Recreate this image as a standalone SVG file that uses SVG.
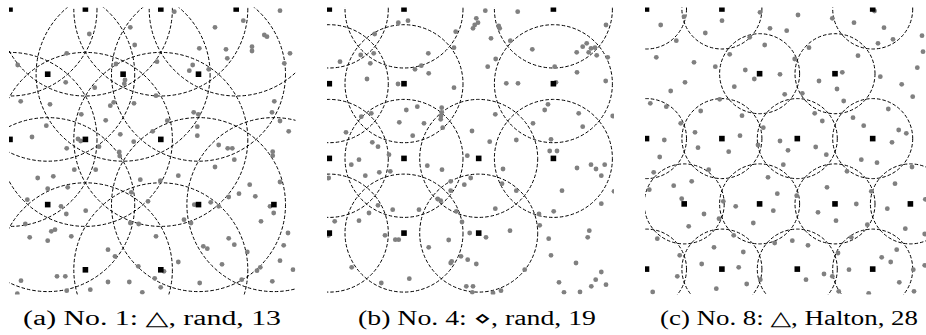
<svg xmlns="http://www.w3.org/2000/svg" width="926" height="335" viewBox="0 0 926 335">
<style>
.c{fill:none;stroke:#000;stroke-width:1;stroke-dasharray:3.5 2}
.d{fill:#808080}
.s{fill:#000}
.cap{font-family:"Liberation Serif","DejaVu Serif",serif;font-size:20px;fill:#000;text-anchor:middle}
</style>
<defs>
<clipPath id="ca"><rect x="9" y="7.5" width="286.5" height="287"/></clipPath>
<clipPath id="cb"><rect x="327" y="7.5" width="287" height="287"/></clipPath>
<clipPath id="cc"><rect x="645" y="7.5" width="287" height="287"/></clipPath>
<rect id="sq" x="-2.8" y="-2.8" width="5.6" height="5.6"/>
</defs>
<rect width="926" height="335" fill="#fff"/>

<g id="panel-a" clip-path="url(#ca)">
<g id="circles-a" class="c">
<circle cx="10" cy="9" r="87"/><circle cx="85.4" cy="9" r="87"/><circle cx="160.8" cy="9" r="87"/><circle cx="236.2" cy="9" r="87"/>
<circle cx="47.7" cy="74.2" r="87"/><circle cx="123.1" cy="74.2" r="87"/><circle cx="198.5" cy="74.2" r="87"/>
<circle cx="10" cy="139.4" r="87"/><circle cx="85.4" cy="139.4" r="87"/><circle cx="160.8" cy="139.4" r="87"/>
<circle cx="47.7" cy="204.6" r="87"/><circle cx="198.5" cy="204.6" r="87"/><circle cx="273.9" cy="204.6" r="87"/>
<circle cx="85.4" cy="269.8" r="87"/><circle cx="160.8" cy="269.8" r="87"/>
</g>
<g id="dots-a" class="d">
<circle cx="174.3" cy="11.7" r="2.4"/><circle cx="280" cy="10.7" r="2.4"/><circle cx="243.3" cy="20.7" r="2.4"/><circle cx="215" cy="27.3" r="2.4"/><circle cx="130.3" cy="27.3" r="2.4"/><circle cx="89.3" cy="34" r="2.4"/><circle cx="264.3" cy="35" r="2.4"/><circle cx="267" cy="36.7" r="2.4"/><circle cx="134.7" cy="45" r="2.4"/><circle cx="199.3" cy="48.3" r="2.4"/><circle cx="226" cy="49.3" r="2.4"/><circle cx="252" cy="46.7" r="2.4"/><circle cx="252" cy="51" r="2.4"/><circle cx="290" cy="53.3" r="2.4"/><circle cx="66.7" cy="53.3" r="2.4"/><circle cx="227.3" cy="58.3" r="2.4"/><circle cx="284.3" cy="63.3" r="2.4"/><circle cx="17.7" cy="65" r="2.4"/><circle cx="116" cy="64" r="2.4"/><circle cx="157" cy="61.7" r="2.4"/><circle cx="192.7" cy="65" r="2.4"/><circle cx="189.3" cy="70.7" r="2.4"/><circle cx="208.7" cy="69.3" r="2.4"/><circle cx="125" cy="80" r="2.4"/><circle cx="124.3" cy="83.7" r="2.4"/><circle cx="65.7" cy="82.3" r="2.4"/><circle cx="94.7" cy="87.7" r="2.4"/><circle cx="156" cy="95.7" r="2.4"/><circle cx="20.7" cy="101.3" r="2.4"/><circle cx="50" cy="104.3" r="2.4"/><circle cx="113.7" cy="102.3" r="2.4"/><circle cx="110.3" cy="105.7" r="2.4"/><circle cx="134" cy="103.3" r="2.4"/><circle cx="274.3" cy="101.3" r="2.4"/><circle cx="193.7" cy="112.3" r="2.4"/><circle cx="198.3" cy="114.3" r="2.4"/><circle cx="81.3" cy="114.3" r="2.4"/><circle cx="272" cy="112.3" r="2.4"/><circle cx="105.7" cy="120.3" r="2.4"/><circle cx="167.3" cy="120.7" r="2.4"/><circle cx="280" cy="121" r="2.4"/><circle cx="46.3" cy="125.7" r="2.4"/><circle cx="197.3" cy="126.7" r="2.4"/><circle cx="197.3" cy="135.7" r="2.4"/><circle cx="120.3" cy="134.3" r="2.4"/><circle cx="152.7" cy="131.3" r="2.4"/><circle cx="288.7" cy="131.3" r="2.4"/><circle cx="32" cy="137" r="2.4"/><circle cx="78" cy="139" r="2.4"/><circle cx="80.7" cy="141" r="2.4"/><circle cx="133.7" cy="141.7" r="2.4"/><circle cx="99" cy="146.7" r="2.4"/><circle cx="218.7" cy="145" r="2.4"/><circle cx="227.7" cy="148.3" r="2.4"/><circle cx="232.3" cy="148.3" r="2.4"/><circle cx="272.7" cy="151.7" r="2.4"/><circle cx="272.7" cy="155.7" r="2.4"/><circle cx="66.7" cy="148.3" r="2.4"/><circle cx="119.3" cy="152" r="2.4"/><circle cx="119.7" cy="156" r="2.4"/><circle cx="234.3" cy="159.7" r="2.4"/><circle cx="215" cy="167" r="2.4"/><circle cx="74.3" cy="169.7" r="2.4"/><circle cx="95.7" cy="169.7" r="2.4"/><circle cx="178.3" cy="175.7" r="2.4"/><circle cx="37.7" cy="178" r="2.4"/><circle cx="53.3" cy="176.3" r="2.4"/><circle cx="140.3" cy="179.7" r="2.4"/><circle cx="160.3" cy="180.7" r="2.4"/><circle cx="280" cy="182" r="2.4"/><circle cx="249.7" cy="184.7" r="2.4"/><circle cx="47.7" cy="188.7" r="2.4"/><circle cx="67.7" cy="187.3" r="2.4"/><circle cx="131.3" cy="192.3" r="2.4"/><circle cx="239" cy="193.7" r="2.4"/><circle cx="228.7" cy="197" r="2.4"/><circle cx="255.3" cy="196.3" r="2.4"/><circle cx="27.3" cy="199.7" r="2.4"/><circle cx="148" cy="201.3" r="2.4"/><circle cx="210.7" cy="202.3" r="2.4"/><circle cx="194.3" cy="204.7" r="2.4"/><circle cx="218.7" cy="206.3" r="2.4"/><circle cx="61" cy="206.3" r="2.4"/><circle cx="270" cy="206.3" r="2.4"/><circle cx="85.7" cy="210.7" r="2.4"/><circle cx="66.3" cy="214" r="2.4"/><circle cx="273.7" cy="213" r="2.4"/><circle cx="184" cy="219.7" r="2.4"/><circle cx="191" cy="223" r="2.4"/><circle cx="130.3" cy="223" r="2.4"/><circle cx="138.7" cy="224" r="2.4"/><circle cx="261" cy="221.3" r="2.4"/><circle cx="25.3" cy="224" r="2.4"/><circle cx="55" cy="229.7" r="2.4"/><circle cx="51.3" cy="231.3" r="2.4"/><circle cx="288" cy="233" r="2.4"/><circle cx="29.7" cy="237.3" r="2.4"/><circle cx="71.3" cy="236.3" r="2.4"/><circle cx="47.7" cy="240.7" r="2.4"/><circle cx="156" cy="236.3" r="2.4"/><circle cx="228.7" cy="238.3" r="2.4"/><circle cx="234.3" cy="244.7" r="2.4"/><circle cx="283.7" cy="245.3" r="2.4"/><circle cx="203.3" cy="246.3" r="2.4"/><circle cx="207.3" cy="248.7" r="2.4"/><circle cx="108" cy="249.7" r="2.4"/><circle cx="247.3" cy="252" r="2.4"/><circle cx="115" cy="256.3" r="2.4"/><circle cx="280" cy="260.7" r="2.4"/><circle cx="178.3" cy="262" r="2.4"/><circle cx="222" cy="264.3" r="2.4"/><circle cx="138.3" cy="266.3" r="2.4"/><circle cx="260.3" cy="267.3" r="2.4"/><circle cx="257" cy="270.7" r="2.4"/><circle cx="293" cy="269.7" r="2.4"/><circle cx="164" cy="271.3" r="2.4"/><circle cx="65.3" cy="276.3" r="2.4"/><circle cx="57" cy="276.3" r="2.4"/><circle cx="154.7" cy="278.3" r="2.4"/><circle cx="21" cy="280.7" r="2.4"/><circle cx="108" cy="282" r="2.4"/><circle cx="129.3" cy="282" r="2.4"/><circle cx="199.7" cy="283" r="2.4"/><circle cx="241.7" cy="279.7" r="2.4"/><circle cx="272.3" cy="281.3" r="2.4"/><circle cx="66.7" cy="290.7" r="2.4"/><circle cx="90.3" cy="289.7" r="2.4"/><circle cx="160.7" cy="287.3" r="2.4"/><circle cx="142.3" cy="292.3" r="2.4"/><circle cx="17.3" cy="293.7" r="2.4"/>
</g>
<g id="centers-a" class="s">
<use href="#sq" x="10" y="9"/><use href="#sq" x="85.4" y="9"/><use href="#sq" x="160.8" y="9"/><use href="#sq" x="236.2" y="9"/>
<use href="#sq" x="47.7" y="74.2"/><use href="#sq" x="123.1" y="74.2"/><use href="#sq" x="198.5" y="74.2"/>
<use href="#sq" x="10" y="139.4"/><use href="#sq" x="85.4" y="139.4"/><use href="#sq" x="160.8" y="139.4"/>
<use href="#sq" x="47.7" y="204.6"/><use href="#sq" x="198.5" y="204.6"/><use href="#sq" x="273.9" y="204.6"/>
<use href="#sq" x="85.4" y="269.8"/><use href="#sq" x="160.8" y="269.8"/>
</g>
</g>

<g id="panel-b" clip-path="url(#cb)">
<g id="circles-b" class="c">
<circle cx="329.3" cy="9" r="59"/><circle cx="404" cy="9" r="59"/><circle cx="553.4" cy="9" r="59"/>
<circle cx="329.3" cy="83.7" r="59"/><circle cx="404" cy="83.7" r="59"/><circle cx="553.4" cy="83.7" r="59"/>
<circle cx="329.3" cy="158.4" r="59"/><circle cx="404" cy="158.4" r="59"/><circle cx="478.7" cy="158.4" r="59"/><circle cx="553.4" cy="158.4" r="59"/>
<circle cx="329.3" cy="233.1" r="59"/><circle cx="404" cy="233.1" r="59"/><circle cx="478.7" cy="233.1" r="59"/>
</g>
<g id="dots-b" class="d">
<circle cx="485.3" cy="10.7" r="2.4"/><circle cx="517.7" cy="11.7" r="2.4"/><circle cx="408" cy="20.7" r="2.4"/><circle cx="398.3" cy="22.7" r="2.4"/><circle cx="476.3" cy="18.3" r="2.4"/><circle cx="478" cy="22.7" r="2.4"/><circle cx="474.7" cy="25" r="2.4"/><circle cx="473" cy="28.3" r="2.4"/><circle cx="498.7" cy="26" r="2.4"/><circle cx="499.7" cy="28.3" r="2.4"/><circle cx="606" cy="25" r="2.4"/><circle cx="455.7" cy="31.7" r="2.4"/><circle cx="374.7" cy="34" r="2.4"/><circle cx="491" cy="38.3" r="2.4"/><circle cx="510.3" cy="40.7" r="2.4"/><circle cx="454" cy="47.7" r="2.4"/><circle cx="532.3" cy="49.3" r="2.4"/><circle cx="586.7" cy="43.3" r="2.4"/><circle cx="582.7" cy="46.7" r="2.4"/><circle cx="591" cy="48.3" r="2.4"/><circle cx="595" cy="47.7" r="2.4"/><circle cx="576.7" cy="52.3" r="2.4"/><circle cx="588.7" cy="52.3" r="2.4"/><circle cx="596.7" cy="55.3" r="2.4"/><circle cx="607.7" cy="57.3" r="2.4"/><circle cx="428.3" cy="53.3" r="2.4"/><circle cx="373.7" cy="53.3" r="2.4"/><circle cx="360.7" cy="55" r="2.4"/><circle cx="340" cy="61.7" r="2.4"/><circle cx="370.3" cy="63.3" r="2.4"/><circle cx="495.7" cy="59" r="2.4"/><circle cx="421.3" cy="65.7" r="2.4"/><circle cx="415" cy="69.3" r="2.4"/><circle cx="487.7" cy="66.7" r="2.4"/><circle cx="554.7" cy="66.7" r="2.4"/><circle cx="428.7" cy="73.3" r="2.4"/><circle cx="577" cy="72.3" r="2.4"/><circle cx="367" cy="79" r="2.4"/><circle cx="398" cy="84" r="2.4"/><circle cx="506.3" cy="83.3" r="2.4"/><circle cx="518" cy="83.3" r="2.4"/><circle cx="556" cy="82.3" r="2.4"/><circle cx="605.7" cy="81" r="2.4"/><circle cx="454" cy="87.7" r="2.4"/><circle cx="548" cy="104.3" r="2.4"/><circle cx="544.7" cy="110" r="2.4"/><circle cx="417.3" cy="106.7" r="2.4"/><circle cx="406.3" cy="110" r="2.4"/><circle cx="441.7" cy="107.7" r="2.4"/><circle cx="441.7" cy="112.3" r="2.4"/><circle cx="441" cy="116" r="2.4"/><circle cx="440.7" cy="119.3" r="2.4"/><circle cx="495.3" cy="114.3" r="2.4"/><circle cx="371.3" cy="113.3" r="2.4"/><circle cx="361.3" cy="116.7" r="2.4"/><circle cx="578.7" cy="113.3" r="2.4"/><circle cx="612.7" cy="116" r="2.4"/><circle cx="399.3" cy="122.3" r="2.4"/><circle cx="424" cy="123.3" r="2.4"/><circle cx="533" cy="123.3" r="2.4"/><circle cx="442.7" cy="127.7" r="2.4"/><circle cx="582.7" cy="126.7" r="2.4"/><circle cx="346" cy="132.3" r="2.4"/><circle cx="472" cy="131" r="2.4"/><circle cx="412.7" cy="135.7" r="2.4"/><circle cx="551" cy="139.3" r="2.4"/><circle cx="516.3" cy="140" r="2.4"/><circle cx="489.7" cy="141.7" r="2.4"/><circle cx="372.3" cy="142.3" r="2.4"/><circle cx="378" cy="146.7" r="2.4"/><circle cx="549.7" cy="151" r="2.4"/><circle cx="557" cy="151" r="2.4"/><circle cx="389" cy="154.7" r="2.4"/><circle cx="359" cy="159.7" r="2.4"/><circle cx="351.3" cy="164.7" r="2.4"/><circle cx="467.3" cy="155.7" r="2.4"/><circle cx="427.3" cy="165.7" r="2.4"/><circle cx="442" cy="169.7" r="2.4"/><circle cx="503" cy="169" r="2.4"/><circle cx="591" cy="164.7" r="2.4"/><circle cx="596" cy="169" r="2.4"/><circle cx="604.7" cy="164.7" r="2.4"/><circle cx="601.3" cy="175.7" r="2.4"/><circle cx="577" cy="168" r="2.4"/><circle cx="390.3" cy="171.3" r="2.4"/><circle cx="379.3" cy="172.3" r="2.4"/><circle cx="365.3" cy="175.7" r="2.4"/><circle cx="328.7" cy="178" r="2.4"/><circle cx="470.7" cy="178" r="2.4"/><circle cx="464.3" cy="184.7" r="2.4"/><circle cx="450.7" cy="181.3" r="2.4"/><circle cx="450.7" cy="190.7" r="2.4"/><circle cx="502" cy="183.7" r="2.4"/><circle cx="516.3" cy="190.7" r="2.4"/><circle cx="562" cy="190.7" r="2.4"/><circle cx="614" cy="191.3" r="2.4"/><circle cx="437.7" cy="199" r="2.4"/><circle cx="440.7" cy="200.7" r="2.4"/><circle cx="378" cy="205.3" r="2.4"/><circle cx="601.3" cy="203.7" r="2.4"/><circle cx="495.3" cy="208.7" r="2.4"/><circle cx="392.7" cy="209.7" r="2.4"/><circle cx="419" cy="209.7" r="2.4"/><circle cx="369" cy="213" r="2.4"/><circle cx="456.3" cy="211.3" r="2.4"/><circle cx="553.7" cy="211.3" r="2.4"/><circle cx="539" cy="214" r="2.4"/><circle cx="334.7" cy="221.3" r="2.4"/><circle cx="359" cy="220.7" r="2.4"/><circle cx="462" cy="222" r="2.4"/><circle cx="539.7" cy="225.3" r="2.4"/><circle cx="510" cy="230.7" r="2.4"/><circle cx="589.3" cy="230.7" r="2.4"/><circle cx="587.7" cy="237.3" r="2.4"/><circle cx="328.7" cy="235.3" r="2.4"/><circle cx="385" cy="235.3" r="2.4"/><circle cx="395.3" cy="239.7" r="2.4"/><circle cx="398.7" cy="239.7" r="2.4"/><circle cx="469.7" cy="233" r="2.4"/><circle cx="486" cy="237.3" r="2.4"/><circle cx="448.7" cy="240" r="2.4"/><circle cx="548.7" cy="238.7" r="2.4"/><circle cx="428.7" cy="247.3" r="2.4"/><circle cx="551" cy="255.3" r="2.4"/><circle cx="461" cy="256.3" r="2.4"/><circle cx="467.7" cy="259.7" r="2.4"/><circle cx="451.7" cy="261.3" r="2.4"/><circle cx="450.7" cy="263" r="2.4"/><circle cx="476.3" cy="264" r="2.4"/><circle cx="576" cy="263" r="2.4"/><circle cx="351.7" cy="267.3" r="2.4"/><circle cx="524.7" cy="269.7" r="2.4"/><circle cx="601.3" cy="272" r="2.4"/><circle cx="409.3" cy="278.7" r="2.4"/><circle cx="595.7" cy="279.7" r="2.4"/><circle cx="381.3" cy="283" r="2.4"/><circle cx="559" cy="282.3" r="2.4"/><circle cx="606" cy="284.7" r="2.4"/><circle cx="591.3" cy="286.3" r="2.4"/><circle cx="466.3" cy="286.3" r="2.4"/><circle cx="473" cy="286.3" r="2.4"/><circle cx="501" cy="290.7" r="2.4"/><circle cx="493" cy="293" r="2.4"/><circle cx="564" cy="292.3" r="2.4"/><circle cx="580" cy="292" r="2.4"/><circle cx="472.3" cy="292.3" r="2.4"/>
</g>
<g id="centers-b" class="s">
<use href="#sq" x="329.3" y="9"/><use href="#sq" x="404" y="9"/><use href="#sq" x="553.4" y="9"/>
<use href="#sq" x="329.3" y="83.7"/><use href="#sq" x="404" y="83.7"/><use href="#sq" x="553.4" y="83.7"/>
<use href="#sq" x="329.3" y="158.4"/><use href="#sq" x="404" y="158.4"/><use href="#sq" x="478.7" y="158.4"/><use href="#sq" x="553.4" y="158.4"/>
<use href="#sq" x="329.3" y="233.1"/><use href="#sq" x="404" y="233.1"/><use href="#sq" x="478.7" y="233.1"/>
</g>
</g>

<g id="panel-c" clip-path="url(#cc)">
<g id="circles-c" class="c">
<circle cx="646.5" cy="9" r="40"/><circle cx="721.9" cy="9" r="40"/><circle cx="872.7" cy="9" r="40"/>
<circle cx="759.6" cy="73.7" r="40"/><circle cx="835" cy="73.7" r="40"/>
<circle cx="646.5" cy="138.6" r="40"/><circle cx="721.9" cy="138.6" r="40"/><circle cx="797.3" cy="138.6" r="40"/><circle cx="872.7" cy="138.6" r="40"/>
<circle cx="684.2" cy="203.9" r="40"/><circle cx="759.6" cy="203.9" r="40"/><circle cx="835" cy="203.9" r="40"/><circle cx="910.4" cy="203.9" r="40"/>
<circle cx="646.5" cy="269.1" r="40"/><circle cx="721.9" cy="269.1" r="40"/><circle cx="797.3" cy="269.1" r="40"/><circle cx="872.7" cy="269.1" r="40"/>
</g>
<g id="dots-c" class="d">
<circle cx="684" cy="16.7" r="2.4"/><circle cx="760" cy="12.3" r="2.4"/><circle cx="798" cy="15" r="2.4"/><circle cx="874.5" cy="11" r="2.4"/><circle cx="832.3" cy="18.3" r="2.4"/><circle cx="722" cy="20.7" r="2.4"/><circle cx="660.7" cy="25" r="2.4"/><circle cx="854" cy="22.7" r="2.4"/><circle cx="884" cy="27.7" r="2.4"/><circle cx="770" cy="28.3" r="2.4"/><circle cx="786.7" cy="30.7" r="2.4"/><circle cx="705.3" cy="33" r="2.4"/><circle cx="749.7" cy="37.3" r="2.4"/><circle cx="922" cy="35.7" r="2.4"/><circle cx="676.3" cy="40.7" r="2.4"/><circle cx="893" cy="39.3" r="2.4"/><circle cx="878" cy="43.3" r="2.4"/><circle cx="764.7" cy="45" r="2.4"/><circle cx="809" cy="47.7" r="2.4"/><circle cx="923" cy="51.7" r="2.4"/><circle cx="729.7" cy="54.3" r="2.4"/><circle cx="858" cy="55.7" r="2.4"/><circle cx="656.3" cy="57.3" r="2.4"/><circle cx="794.7" cy="59" r="2.4"/><circle cx="694" cy="62.3" r="2.4"/><circle cx="917.3" cy="67.7" r="2.4"/><circle cx="715.3" cy="66.7" r="2.4"/><circle cx="745.3" cy="70" r="2.4"/><circle cx="780" cy="74.3" r="2.4"/><circle cx="842.3" cy="72.3" r="2.4"/><circle cx="880.3" cy="76.7" r="2.4"/><circle cx="754.3" cy="79" r="2.4"/><circle cx="819" cy="81" r="2.4"/><circle cx="685" cy="82.3" r="2.4"/><circle cx="734.3" cy="86.7" r="2.4"/><circle cx="901.7" cy="84.3" r="2.4"/><circle cx="837" cy="89" r="2.4"/><circle cx="670.7" cy="91" r="2.4"/><circle cx="784.7" cy="94.3" r="2.4"/><circle cx="802.3" cy="93.3" r="2.4"/><circle cx="912.7" cy="96.7" r="2.4"/><circle cx="650.3" cy="103.3" r="2.4"/><circle cx="666.3" cy="106.7" r="2.4"/><circle cx="719.7" cy="99.3" r="2.4"/><circle cx="843.7" cy="101" r="2.4"/><circle cx="700.7" cy="111" r="2.4"/><circle cx="742" cy="115.7" r="2.4"/><circle cx="814.7" cy="113.3" r="2.4"/><circle cx="888.3" cy="109" r="2.4"/><circle cx="853" cy="117.7" r="2.4"/><circle cx="822.3" cy="121" r="2.4"/><circle cx="680.7" cy="123.3" r="2.4"/><circle cx="763.3" cy="127.7" r="2.4"/><circle cx="863.7" cy="125.7" r="2.4"/><circle cx="695" cy="132.3" r="2.4"/><circle cx="898.7" cy="130" r="2.4"/><circle cx="906.3" cy="133.3" r="2.4"/><circle cx="740" cy="135.7" r="2.4"/><circle cx="664.3" cy="140" r="2.4"/><circle cx="780" cy="141" r="2.4"/><circle cx="892" cy="142.3" r="2.4"/><circle cx="758" cy="145" r="2.4"/><circle cx="698" cy="147.7" r="2.4"/><circle cx="728.7" cy="151.7" r="2.4"/><circle cx="788" cy="150.3" r="2.4"/><circle cx="815.7" cy="147" r="2.4"/><circle cx="659.7" cy="157" r="2.4"/><circle cx="826.3" cy="154.7" r="2.4"/><circle cx="861.3" cy="159.7" r="2.4"/><circle cx="877" cy="162.7" r="2.4"/><circle cx="783.3" cy="164.7" r="2.4"/><circle cx="653.7" cy="172.3" r="2.4"/><circle cx="708.7" cy="169.7" r="2.4"/><circle cx="912" cy="167" r="2.4"/><circle cx="847" cy="171.3" r="2.4"/><circle cx="768" cy="177.3" r="2.4"/><circle cx="691.7" cy="181.3" r="2.4"/><circle cx="895" cy="183.7" r="2.4"/><circle cx="673.7" cy="185.7" r="2.4"/><circle cx="827" cy="187.3" r="2.4"/><circle cx="649.3" cy="189.7" r="2.4"/><circle cx="777.3" cy="193.7" r="2.4"/><circle cx="871.3" cy="191.3" r="2.4"/><circle cx="681.7" cy="198.7" r="2.4"/><circle cx="723.3" cy="201.3" r="2.4"/><circle cx="735.7" cy="206.3" r="2.4"/><circle cx="796.7" cy="195.7" r="2.4"/><circle cx="856.3" cy="204" r="2.4"/><circle cx="925.3" cy="199.3" r="2.4"/><circle cx="887.3" cy="208.7" r="2.4"/><circle cx="773.3" cy="210.7" r="2.4"/><circle cx="704" cy="214" r="2.4"/><circle cx="818" cy="212.3" r="2.4"/><circle cx="719" cy="218.7" r="2.4"/><circle cx="836" cy="220.7" r="2.4"/><circle cx="753.3" cy="223" r="2.4"/><circle cx="688.7" cy="226.3" r="2.4"/><circle cx="867.3" cy="224.7" r="2.4"/><circle cx="905.3" cy="228.7" r="2.4"/><circle cx="792.3" cy="240.7" r="2.4"/><circle cx="733.7" cy="235.3" r="2.4"/><circle cx="851.3" cy="237.3" r="2.4"/><circle cx="657.3" cy="238.7" r="2.4"/><circle cx="774.7" cy="243" r="2.4"/><circle cx="808" cy="245.3" r="2.4"/><circle cx="924.7" cy="234" r="2.4"/><circle cx="714" cy="247.3" r="2.4"/><circle cx="743.3" cy="252" r="2.4"/><circle cx="838" cy="253" r="2.4"/><circle cx="896.7" cy="249.7" r="2.4"/><circle cx="679.7" cy="255.3" r="2.4"/><circle cx="881.7" cy="257.3" r="2.4"/><circle cx="890.7" cy="262" r="2.4"/><circle cx="701.7" cy="264" r="2.4"/><circle cx="738.7" cy="267.3" r="2.4"/><circle cx="849" cy="269.7" r="2.4"/><circle cx="824" cy="274" r="2.4"/><circle cx="913.3" cy="269.7" r="2.4"/><circle cx="924.7" cy="265.3" r="2.4"/><circle cx="677.3" cy="276.3" r="2.4"/><circle cx="832.3" cy="276.3" r="2.4"/><circle cx="760.3" cy="279.7" r="2.4"/><circle cx="806" cy="279.7" r="2.4"/><circle cx="746.7" cy="284" r="2.4"/><circle cx="899.3" cy="282.3" r="2.4"/><circle cx="716.3" cy="288.7" r="2.4"/><circle cx="652.7" cy="292" r="2.4"/><circle cx="838.7" cy="291.3" r="2.4"/><circle cx="868.7" cy="293.3" r="2.4"/><circle cx="914" cy="291.3" r="2.4"/>
</g>
<g id="centers-c" class="s">
<use href="#sq" x="646.5" y="9"/><use href="#sq" x="721.9" y="9"/><use href="#sq" x="872.7" y="9"/>
<use href="#sq" x="759.6" y="73.7"/><use href="#sq" x="835" y="73.7"/>
<use href="#sq" x="646.5" y="138.6"/><use href="#sq" x="721.9" y="138.6"/><use href="#sq" x="797.3" y="138.6"/><use href="#sq" x="872.7" y="138.6"/>
<use href="#sq" x="684.2" y="203.9"/><use href="#sq" x="759.6" y="203.9"/><use href="#sq" x="835" y="203.9"/><use href="#sq" x="910.4" y="203.9"/>
<use href="#sq" x="646.5" y="269.1"/><use href="#sq" x="721.9" y="269.1"/><use href="#sq" x="797.3" y="269.1"/><use href="#sq" x="872.7" y="269.1"/>
</g>
</g>

<g id="captions" class="cap">
<text id="cap-a" x="152" y="325" textLength="258" lengthAdjust="spacingAndGlyphs">(a) No. 1: △, rand, 13</text>
<text id="cap-b" x="477" y="325" textLength="238" lengthAdjust="spacingAndGlyphs">(b) No. 4: ⋄, rand, 19</text>
<text id="cap-c" x="789" y="325" textLength="258" lengthAdjust="spacingAndGlyphs">(c) No. 8: △, Halton, 28</text>
</g>
</svg>
